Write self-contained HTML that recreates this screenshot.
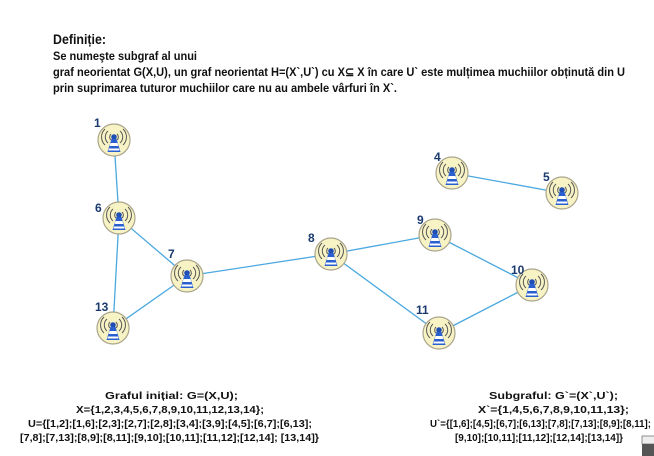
<!DOCTYPE html>
<html><head><meta charset="utf-8"><style>
html,body{margin:0;padding:0;background:#fff;width:654px;height:456px;overflow:hidden;position:relative}
svg{display:block;position:absolute;left:0;top:0}
.t{position:absolute;white-space:nowrap;font-family:"Liberation Sans",Arial,sans-serif;font-weight:bold;color:#111;transform-origin:0 0;line-height:1}
</style></head><body>
<svg width="654" height="456" viewBox="0 0 654 456" xmlns="http://www.w3.org/2000/svg">
<defs>
<g id="n">
<circle r="16" fill="#f8f3c4" stroke="#a9a48a" stroke-width="1.2"/>
<path d="M-6,-9 A8,8 0 0 0 -6,3 M6,-9 A8,8 0 0 1 6,3 M-9,-11 A11,11 0 0 0 -9,5 M9,-11 A11,11 0 0 1 9,5" fill="none" stroke="#555" stroke-width="1"/>
<path d="M-3,-6 A4,4 0 0 0 -3,0 M3,-6 A4,4 0 0 1 3,0" fill="none" stroke="#555" stroke-width="1"/>
<circle cy="-3" r="2.8" fill="#1f4fb5"/>
<polygon points="-2.5,-1 2.5,-1 6.5,12 -6.5,12" fill="#2a5fd0"/>
<polygon points="-3.5,3 3.5,3 4.3,6 -4.3,6" fill="#fff"/>
<polygon points="-5,8.5 5,8.5 5.5,10.5 -5.5,10.5" fill="#fff"/>
</g>
</defs>
<g stroke="#4aa8e0" stroke-width="1.3">
<line x1="114" y1="140" x2="119" y2="218"/>
<line x1="119" y1="218" x2="187" y2="276"/>
<line x1="119" y1="218" x2="113" y2="328"/>
<line x1="187" y1="276" x2="113" y2="328"/>
<line x1="187" y1="276" x2="331" y2="254"/>
<line x1="331" y1="254" x2="435" y2="235"/>
<line x1="331" y1="254" x2="439" y2="333"/>
<line x1="435" y1="235" x2="532" y2="285"/>
<line x1="532" y1="285" x2="439" y2="333"/>
<line x1="452" y1="173" x2="562" y2="193"/>
</g>
<use href="#n" x="114" y="140"/>
<use href="#n" x="119" y="218"/>
<use href="#n" x="187" y="276"/>
<use href="#n" x="113" y="328"/>
<use href="#n" x="331" y="254"/>
<use href="#n" x="435" y="235"/>
<use href="#n" x="452" y="173"/>
<use href="#n" x="562" y="193"/>
<use href="#n" x="532" y="285"/>
<use href="#n" x="439" y="333"/>
<g font-size="12" fill="#1a3a6e" font-family="Liberation Sans, sans-serif" font-weight="bold">
<text x="94" y="127">1</text>
<text x="95" y="212">6</text>
<text x="168" y="258">7</text>
<text x="95" y="311">13</text>
<text x="308" y="242">8</text>
<text x="417" y="224">9</text>
<text x="434" y="161">4</text>
<text x="543" y="181">5</text>
<text x="511" y="274">10</text>
<text x="416" y="314">11</text>
</g>
<rect x="642" y="436" width="14" height="8" fill="#eee" stroke="#777" stroke-width="0.8"/>
<rect x="642" y="444" width="14" height="12" fill="#555"/>
</svg>
<div class="t" style="left:53px;top:32px;font-size:14px" id="a0">Definiție:</div>
<div class="t" style="left:53px;top:50px;font-size:12px" id="a1">Se numeşte subgraf al unui</div>
<div class="t" style="left:53px;top:66px;font-size:12px" id="a2">graf neorientat G(X,U), un graf neorientat H=(X`,U`) cu X⊆ X în care U` este mulțimea muchiilor obținută din U</div>
<div class="t" style="left:53px;top:82px;font-size:12px" id="a3">prin suprimarea tuturor muchiilor care nu au ambele vârfuri în X`.</div>
<div class="t" style="left:105px;top:391px;font-size:10.5px" id="b0">Graful inițial: G=(X,U);</div>
<div class="t" style="left:76px;top:405px;font-size:10.5px" id="b1">X={1,2,3,4,5,6,7,8,9,10,11,12,13,14};</div>
<div class="t" style="left:28px;top:419px;font-size:10.5px" id="b2">U={[1,2];[1,6];[2,3];[2,7];[2,8];[3,4];[3,9];[4,5];[6,7];[6,13];</div>
<div class="t" style="left:20px;top:433px;font-size:10.5px" id="b3">[7,8];[7,13];[8,9];[8,11];[9,10];[10,11];[11,12];[12,14]; [13,14]}</div>
<div class="t" style="left:489px;top:391px;font-size:10.5px" id="c0">Subgraful: G`=(X`,U`);</div>
<div class="t" style="left:478px;top:405px;font-size:10.5px" id="c1">X`={1,4,5,6,7,8,9,10,11,13};</div>
<div class="t" style="left:430px;top:419px;font-size:10.5px" id="c2">U`={[1,6];[4,5];[6,7];[6,13];[7,8];[7,13];[8,9];[8,11];</div>
<div class="t" style="left:455px;top:433px;font-size:10.5px" id="c3">[9,10];[10,11];[11,12];[12,14];[13,14]}</div>
<script>
var W={a0:53,a1:144,a2:572,a3:344,b0:133,b1:188,b2:284,b3:299,c0:129,c1:151,c2:221,c3:168};
for(var k in W){var e=document.getElementById(k);var w=e.getBoundingClientRect().width;if(w>0)e.style.transform='scaleX('+(W[k]/w)+')';}
</script>
</body></html>
